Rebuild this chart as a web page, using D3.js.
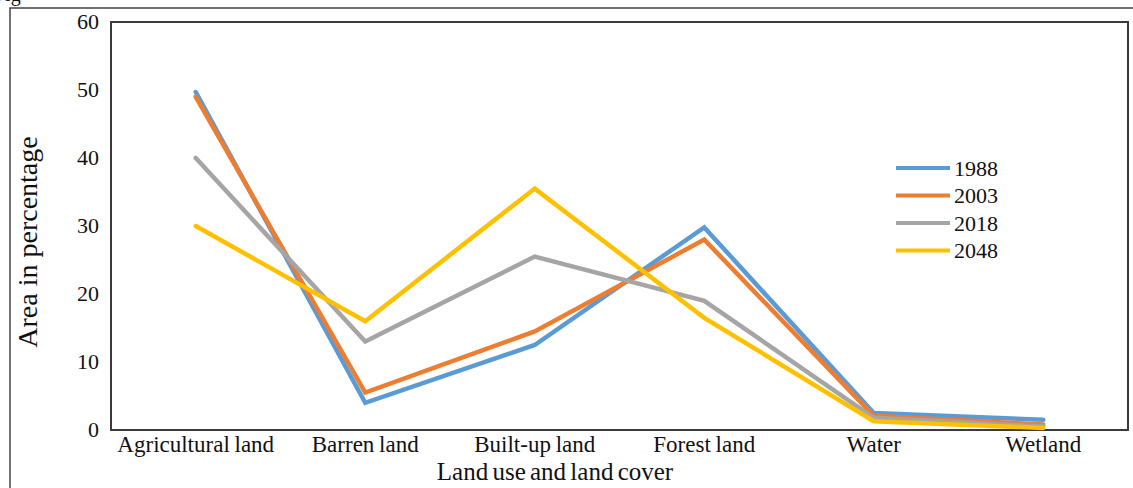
<!DOCTYPE html>
<html>
<head>
<meta charset="utf-8">
<script src="https://cdn.jsdelivr.net/npm/d3@7"></script>
<style>
  body { margin: 0; background: #fff; }
  text { font-family: "Liberation Serif", "Times New Roman", serif; fill: #111; }
</style>
</head>
<body>
<svg id="svg" width="1133" height="488"></svg>
<script>
// land cover classes
var categories = ['Agricultural land', 'Barren land', 'Built-up land', 'Forest land', 'Water', 'Wetland']
var years = ['1988', '2003', '2018', '2048']

// area in percentage
var v1988 = [49.7, 4, 12.5, 29.8, 2.5, 1.5]
var v2003 = [49, 5.5, 14.5, 28, 2.1, 0.8]
var v2018 = [40, 13, 25.5, 19, 1.8, 0.5]
var v2048 = [30, 16, 35.5, 16.5, 1.3, 0.3]

var yTicks = [0, 10, 20, 30, 40, 50, 60]
var colors = ['#5B9BD5', '#ED7D31', '#A5A5A5', '#FFC000']

var series = [v1988, v2003, v2018, v2048]

var svg = d3.select('#svg')

// plot box (window.top is taken, so no plain "top")
var plotL = 111, plotR = 1128, plotT = 22, plotB = 430

// outer frame (from the page the figure sits in)
svg.append('path')
    .attr('d', 'M10,488 L10,8 L1133,8')
    .attr('fill', 'none')
    .attr('stroke', '#444')
    .attr('stroke-width', 1.5)

// leftover caption text cut off above the frame
svg.append('text')
    .attr('x', -6)
    .attr('y', 1)
    .style('font-size', '20px')
    .text('Fig')

var x = d3.scaleBand().domain(categories).range([plotL, plotR])
var y = d3.scaleLinear().domain([0, 60]).range([plotB, plotT])

// plot frame
svg.append('rect')
    .attr('x', plotL)
    .attr('y', plotT)
    .attr('width', plotR - plotL)
    .attr('height', plotB - plotT)
    .attr('fill', 'none')
    .attr('stroke', '#3a3a3a')
    .attr('stroke-width', 2)

// y tick labels
svg.append('g').selectAll('text')
    .data(yTicks)
    .enter().append('text')
    .attr('x', 99)
    .attr('y', function(d) { return y(d) })
    .attr('dy', '0.3em')
    .attr('text-anchor', 'end')
    .style('font-size', '22px')
    .text(function(d) { return d })

// category labels
svg.append('g').selectAll('text')
    .data(categories)
    .enter().append('text')
    .attr('x', function(d) { return x(d) + x.bandwidth() / 2 })
    .attr('y', 452)
    .attr('text-anchor', 'middle')
    .style('font-size', '23px')
    .style('word-spacing', '-1px')
    .text(function(d) { return d })

// axis titles
svg.append('text')
    .attr('x', 555)
    .attr('y', 480)
    .attr('text-anchor', 'middle')
    .style('font-size', '25px')
    .style('word-spacing', '-2px')
    .text('Land use and land cover')

svg.append('text')
    .attr('transform', 'translate(37,242) rotate(-90)')
    .attr('text-anchor', 'middle')
    .style('font-size', '28px')
    .text('Area in percentage')

var line = d3.line()
    .x(function(d, i) { return x(categories[i]) + x.bandwidth() / 2 })
    .y(function(d) { return y(d) })

svg.append('g').selectAll('path')
    .data(series)
    .enter().append('path')
    .attr('d', line)
    .attr('fill', 'none')
    .attr('stroke', function(d, i) { return colors[i] })
    .attr('stroke-width', 4.5)
    .attr('stroke-linecap', 'round')
    .attr('stroke-linejoin', 'miter')

// legend
var legend = svg.append('g').selectAll('g')
    .data(years)
    .enter().append('g')
    .attr('transform', function(d, i) { return 'translate(896,' + (168 + i * 27.5) + ')' })

legend.append('line')
    .attr('x1', 0)
    .attr('x2', 54)
    .attr('stroke', function(d, i) { return colors[i] })
    .attr('stroke-width', 4)

legend.append('text')
    .attr('x', 58)
    .attr('dy', '0.35em')
    .style('font-size', '22px')
    .text(function(d) { return d })
</script>
</body>
</html>
